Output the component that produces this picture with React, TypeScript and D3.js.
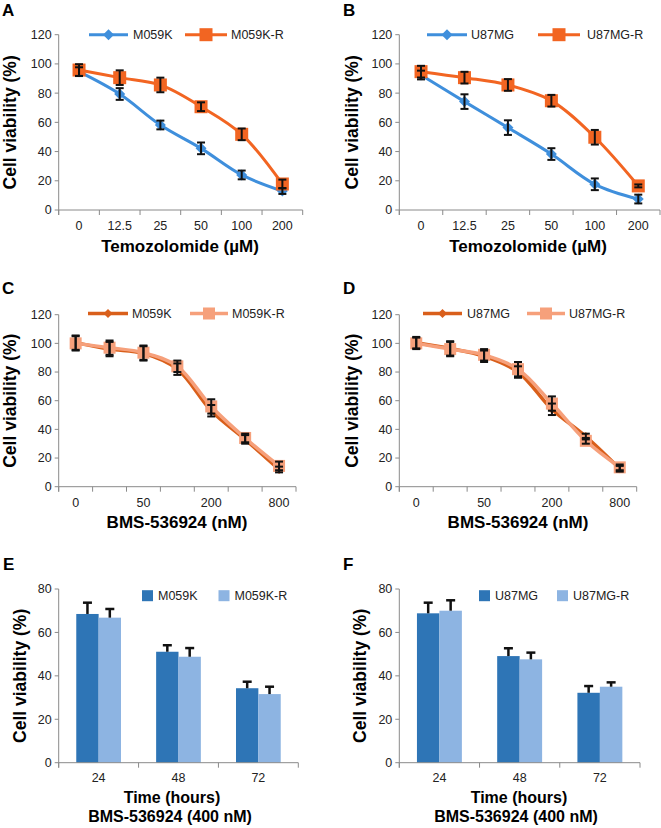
import * as d3 from "d3";

const FONT = "'Liberation Sans', Arial, sans-serif";
const AXIS = "#8a8a8a";

// colours
const BLUE = "#3f8fdc";
const ORANGE = "#f26522";
const DARK_ORANGE = "#d95f1b";
const SALMON = "#f6a07b";
const DARK_BAR = "#2e75b6";
const LIGHT_BAR = "#8db4e2";

// temozolomide panels (A, B)
const TMZ_DOSES = ["0", "12.5", "25", "50", "100", "200"];
const A_M059K = [94.7, 79.4, 58.2, 42.2, 24, 13];
const A_M059K_ERR = [3, 4, 3, 4, 3, 2];
const A_M059KR = [95.8, 90.6, 85.6, 70.7, 51.8, 17.8];
const A_M059KR_ERR = [4, 5, 5, 3, 4, 3];
const B_U87 = [92.4, 74.2, 56.4, 38.3, 17.6, 7.5];
const B_U87_ERR = [3, 5, 5, 4, 4, 3];
const B_U87R = [94.7, 90.6, 85.6, 74.8, 49.8, 16.5];
const B_U87R_ERR = [4, 4, 4, 4, 5, 1];

// BMS-536924 dose panels (C, D)
const BMS_DOSES = ["0", "25", "50", "100", "200", "400", "800"];
const BMS_LABELS = ["0", "", "50", "", "200", "", "800"];
const C_M059K = [100.5, 96, 93, 82, 53, 33, 12];
const C_M059K_ERR = [5, 5, 5, 4, 4, 3, 2];
const C_M059KR = [100, 97, 93.5, 84, 56, 34, 14.5];
const C_M059KR_ERR = [5, 5, 5, 4, 5, 3, 3];
const D_U87 = [100.5, 96.5, 91, 80, 54, 35, 12.5];
const D_U87_ERR = [4, 5, 4, 4, 4, 2, 2];
const D_U87R = [100, 96, 92, 82, 58, 32, 13.5];
const D_U87R_ERR = [4, 5, 4, 5, 5, 2, 2];

// time course bars (E, F)
const TIMES = ["24", "48", "72"];
const E_M059K = [68.5, 51.1, 34.3];
const E_M059K_ERR = [5.2, 3, 3];
const E_M059KR = [66.8, 48.8, 31.6];
const E_M059KR_ERR = [4, 4, 3.4];
const F_U87 = [68.8, 49.1, 32.2];
const F_U87_ERR = [4.9, 3.6, 3.1];
const F_U87R = [70, 47.6, 35];
const F_U87R_ERR = [4.8, 3.1, 2];

type Series = {
  name: string;
  values: number[];
  errors: number[];
  color: string;
  marker?: "diamond" | "square";
  markerSize?: number;
  width?: number;
};

const Marker = ({ kind, x, y, size, color }: any) => {
  if (kind === "square") {
    return <rect x={x - size / 2} y={y - size / 2} width={size} height={size} fill={color} />;
  }
  const h = size / 2;
  return <path d={`M${x},${y - h}L${x + h},${y}L${x},${y + h}L${x - h},${y}Z`} fill={color} />;
};

const PanelText = ({ letter, letterX, letterY, frame, yTitleX, xTitles, xSize = 17 }: any) => (
  <g fontFamily={FONT} fontWeight="bold">
    <text x={letterX} y={letterY} fontSize={17}>{letter}</text>
    <text
      transform={`translate(${yTitleX},${(frame.top + frame.bottom) / 2}) rotate(-90)`}
      textAnchor="middle"
      dominantBaseline="central"
      fontSize={17.5}
    >
      Cell viability (%)
    </text>
    {xTitles.map((t: any, i: number) => (
      <text key={i} x={t.x} y={t.y} textAnchor="middle" fontSize={xSize}>{t.text}</text>
    ))}
  </g>
);

const YAxis = ({ frame, y, ticks }: any) => (
  <g fontFamily={FONT} fontSize={12.5}>
    <line x1={frame.left} x2={frame.left} y1={frame.top} y2={frame.bottom + 5} stroke={AXIS} />
    {ticks.map((t: number) => (
      <g key={t}>
        <line x1={frame.left - 4} x2={frame.left} y1={y(t)} y2={y(t)} stroke={AXIS} />
        <text x={frame.left - 7} y={y(t)} dy="0.35em" textAnchor="end" fill="#222">{t}</text>
      </g>
    ))}
  </g>
);

const XAxis = ({ frame, bounds, centers, labels, labelY }: any) => (
  <g fontFamily={FONT} fontSize={12.5}>
    <line x1={frame.left} x2={frame.right} y1={frame.bottom} y2={frame.bottom} stroke={AXIS} />
    {bounds.map((b: number, i: number) => (
      <line key={i} x1={b} x2={b} y1={frame.bottom} y2={frame.bottom + 5} stroke={AXIS} />
    ))}
    {labels.map((l: string, i: number) => (
      <text key={i} x={centers[i]} y={labelY} textAnchor="middle" fill="#222">{l}</text>
    ))}
  </g>
);

const LinePanel = ({ frame, yMax, categories, labels, series, legend, legendY, labelY, text }: any) => {
  const y = d3.scaleLinear().domain([0, yMax]).range([frame.bottom, frame.top]);
  const x = d3.scaleBand().domain(categories).range([frame.left, frame.right]).padding(0);
  const cx = (c: string) => (x(c) as number) + x.bandwidth() / 2;
  const bounds = d3.range(categories.length + 1).map((i) => frame.left + i * x.step());
  const line = d3
    .line<number>()
    .x((_, i) => cx(categories[i]))
    .y((d) => y(d))
    .curve(d3.curveCatmullRom.alpha(0.5));

  return (
    <g>
      <YAxis frame={frame} y={y} ticks={d3.range(0, yMax + 1, 20)} />
      <XAxis frame={frame} bounds={bounds} centers={categories.map(cx)} labels={labels} labelY={labelY} />
      {series.map((s: Series) => (
        <g key={s.name}>
          <path d={line(s.values) as string} fill="none" stroke={s.color} strokeWidth={s.width} />
          {s.values.map((v, i) => (
            <Marker key={i} kind={s.marker} x={cx(categories[i])} y={y(v)} size={s.markerSize} color={s.color} />
          ))}
        </g>
      ))}
      {series.map((s: Series) => (
        <g key={s.name + "err"} stroke="#111" strokeWidth={2}>
          {s.values.map((v, i) => {
            const px = cx(categories[i]);
            const lo = y(v - s.errors[i]);
            const hi = y(v + s.errors[i]);
            return (
              <g key={i}>
                <line x1={px} x2={px} y1={lo} y2={hi} />
                <line x1={px - 4} x2={px + 4} y1={lo} y2={lo} />
                <line x1={px - 4} x2={px + 4} y1={hi} y2={hi} />
              </g>
            );
          })}
        </g>
      ))}
      {series.map((s: Series, i: number) => {
        const L = legend[i];
        return (
          <g key={s.name + "leg"}>
            <line x1={L.x1} x2={L.x2} y1={legendY} y2={legendY} stroke={s.color} strokeWidth={s.width} />
            <Marker kind={s.marker} x={(L.x1 + L.x2) / 2} y={legendY} size={s.markerSize} color={s.color} />
            <text x={L.tx} y={legendY} dy="0.35em" fontFamily={FONT} fontSize={12.5} fill="#222">{s.name}</text>
          </g>
        );
      })}
      <PanelText {...text} frame={frame} />
    </g>
  );
};

const BarPanel = ({ frame, yMax, categories, series, legend, legendY, labelY, text }: any) => {
  const y = d3.scaleLinear().domain([0, yMax]).range([frame.bottom, frame.top]);
  const x = d3.scaleBand().domain(categories).range([frame.left, frame.right]).paddingInner(0.44).paddingOuter(0.22);
  const sub = d3.scaleBand().domain(series.map((s: Series) => s.name)).range([0, x.bandwidth()]);
  const bounds = d3.range(categories.length + 1).map((i) => frame.left + i * x.step());
  const centers = categories.map((c: string) => (x(c) as number) + x.bandwidth() / 2);

  return (
    <g>
      {series.map((s: Series) =>
        s.values.map((v, i) => (
          <rect
            key={s.name + i}
            x={(x(categories[i]) as number) + (sub(s.name) as number)}
            y={y(v)}
            width={sub.bandwidth()}
            height={frame.bottom - y(v)}
            fill={s.color}
          />
        ))
      )}
      {series.map((s: Series) =>
        s.values.map((v, i) => {
          const px = (x(categories[i]) as number) + (sub(s.name) as number) + sub.bandwidth() / 2;
          const hi = y(v + s.errors[i]);
          return (
            <g key={s.name + "e" + i} stroke="#111" strokeWidth={2.5}>
              <line x1={px} x2={px} y1={y(v)} y2={hi} />
              <line x1={px - 4.5} x2={px + 4.5} y1={hi} y2={hi} />
            </g>
          );
        })
      )}
      <YAxis frame={frame} y={y} ticks={d3.range(0, yMax + 1, 20)} />
      <XAxis frame={frame} bounds={bounds} centers={centers} labels={categories} labelY={labelY} />
      {series.map((s: Series, i: number) => {
        const L = legend[i];
        return (
          <g key={s.name + "leg"}>
            <rect x={L.x} y={legendY - 5.5} width={11} height={11} fill={s.color} />
            <text x={L.x + 16} y={legendY} dy="0.35em" fontFamily={FONT} fontSize={12.5} fill="#222">{s.name}</text>
          </g>
        );
      })}
      <PanelText {...text} frame={frame} />
    </g>
  );
};

const tmzSeries = (a: string, av: number[], ae: number[], b: string, bv: number[], be: number[]): Series[] => [
  { name: a, values: av, errors: ae, color: BLUE, marker: "diamond", markerSize: 11, width: 3 },
  { name: b, values: bv, errors: be, color: ORANGE, marker: "square", markerSize: 13, width: 3 },
];
const bmsSeries = (a: string, av: number[], ae: number[], b: string, bv: number[], be: number[]): Series[] => [
  { name: a, values: av, errors: ae, color: DARK_ORANGE, marker: "diamond", markerSize: 9, width: 3.5 },
  { name: b, values: bv, errors: be, color: SALMON, marker: "square", markerSize: 12, width: 3.5 },
];
const barSeries = (a: string, av: number[], ae: number[], b: string, bv: number[], be: number[]): Series[] => [
  { name: a, values: av, errors: ae, color: DARK_BAR },
  { name: b, values: bv, errors: be, color: LIGHT_BAR },
];

export default function App() {
  const fA = { left: 58.7, right: 302.7, top: 34.7, bottom: 210 };
  const fB = { left: 399.3, right: 660, top: 34.7, bottom: 210 };
  const fC = { left: 58.7, right: 296, top: 314.7, bottom: 486.7 };
  const fD = { left: 399.3, right: 636.7, top: 314.7, bottom: 486.7 };
  const fE = { left: 58.7, right: 298.3, top: 589, bottom: 762.7 };
  const fF = { left: 399.3, right: 640, top: 589, bottom: 762.7 };

  return (
    <svg width={661} height={828} style={{ position: "absolute", left: 0, top: 0, background: "#fff" }}>
      <LinePanel
        frame={fA} yMax={120} categories={TMZ_DOSES} labels={TMZ_DOSES}
        series={tmzSeries("M059K", A_M059K, A_M059K_ERR, "M059K-R", A_M059KR, A_M059KR_ERR)}
        legend={[{ x1: 89, x2: 128, tx: 133 }, { x1: 185, x2: 227, tx: 231 }]} legendY={34.7} labelY={230}
        text={{ letter: "A", letterX: 2, letterY: 15.5, yTitleX: 10, xTitles: [{ text: "Temozolomide (\u00b5M)", x: 180, y: 252 }] }}
      />
      <LinePanel
        frame={fB} yMax={120} categories={TMZ_DOSES} labels={TMZ_DOSES}
        series={tmzSeries("U87MG", B_U87, B_U87_ERR, "U87MG-R", B_U87R, B_U87R_ERR)}
        legend={[{ x1: 427, x2: 467, tx: 471 }, { x1: 538, x2: 580, tx: 587 }]} legendY={34.7} labelY={230}
        text={{ letter: "B", letterX: 343, letterY: 15.5, yTitleX: 352, xTitles: [{ text: "Temozolomide (\u00b5M)", x: 528, y: 252 }] }}
      />
      <LinePanel
        frame={fC} yMax={120} categories={BMS_DOSES} labels={BMS_LABELS}
        series={bmsSeries("M059K", C_M059K, C_M059K_ERR, "M059K-R", C_M059KR, C_M059KR_ERR)}
        legend={[{ x1: 88, x2: 128, tx: 132 }, { x1: 190, x2: 228, tx: 232 }]} legendY={313.5} labelY={507}
        text={{ letter: "C", letterX: 2, letterY: 294, yTitleX: 10, xTitles: [{ text: "BMS-536924 (nM)", x: 177, y: 528 }] }}
      />
      <LinePanel
        frame={fD} yMax={120} categories={BMS_DOSES} labels={BMS_LABELS}
        series={bmsSeries("U87MG", D_U87, D_U87_ERR, "U87MG-R", D_U87R, D_U87R_ERR)}
        legend={[{ x1: 423, x2: 462, tx: 467 }, { x1: 527, x2: 565, tx: 569 }]} legendY={313.5} labelY={507}
        text={{ letter: "D", letterX: 343, letterY: 294, yTitleX: 352, xTitles: [{ text: "BMS-536924 (nM)", x: 518, y: 528 }] }}
      />
      <BarPanel
        frame={fE} yMax={80} categories={TIMES}
        series={barSeries("M059K", E_M059K, E_M059K_ERR, "M059K-R", E_M059KR, E_M059KR_ERR)}
        legend={[{ x: 142 }, { x: 218.5 }]} legendY={595.7} labelY={782}
        text={{ letter: "E", letterX: 3, letterY: 570, yTitleX: 20, xSize: 16, xTitles: [{ text: "Time (hours)", x: 172, y: 803 }, { text: "BMS-536924 (400 nM)", x: 170, y: 822 }] }}
      />
      <BarPanel
        frame={fF} yMax={80} categories={TIMES}
        series={barSeries("U87MG", F_U87, F_U87_ERR, "U87MG-R", F_U87R, F_U87R_ERR)}
        legend={[{ x: 479 }, { x: 557 }]} legendY={595.7} labelY={782}
        text={{ letter: "F", letterX: 343, letterY: 570, yTitleX: 360, xSize: 16, xTitles: [{ text: "Time (hours)", x: 519, y: 803 }, { text: "BMS-536924 (400 nM)", x: 516, y: 822 }] }}
      />
    </svg>
  );
}
